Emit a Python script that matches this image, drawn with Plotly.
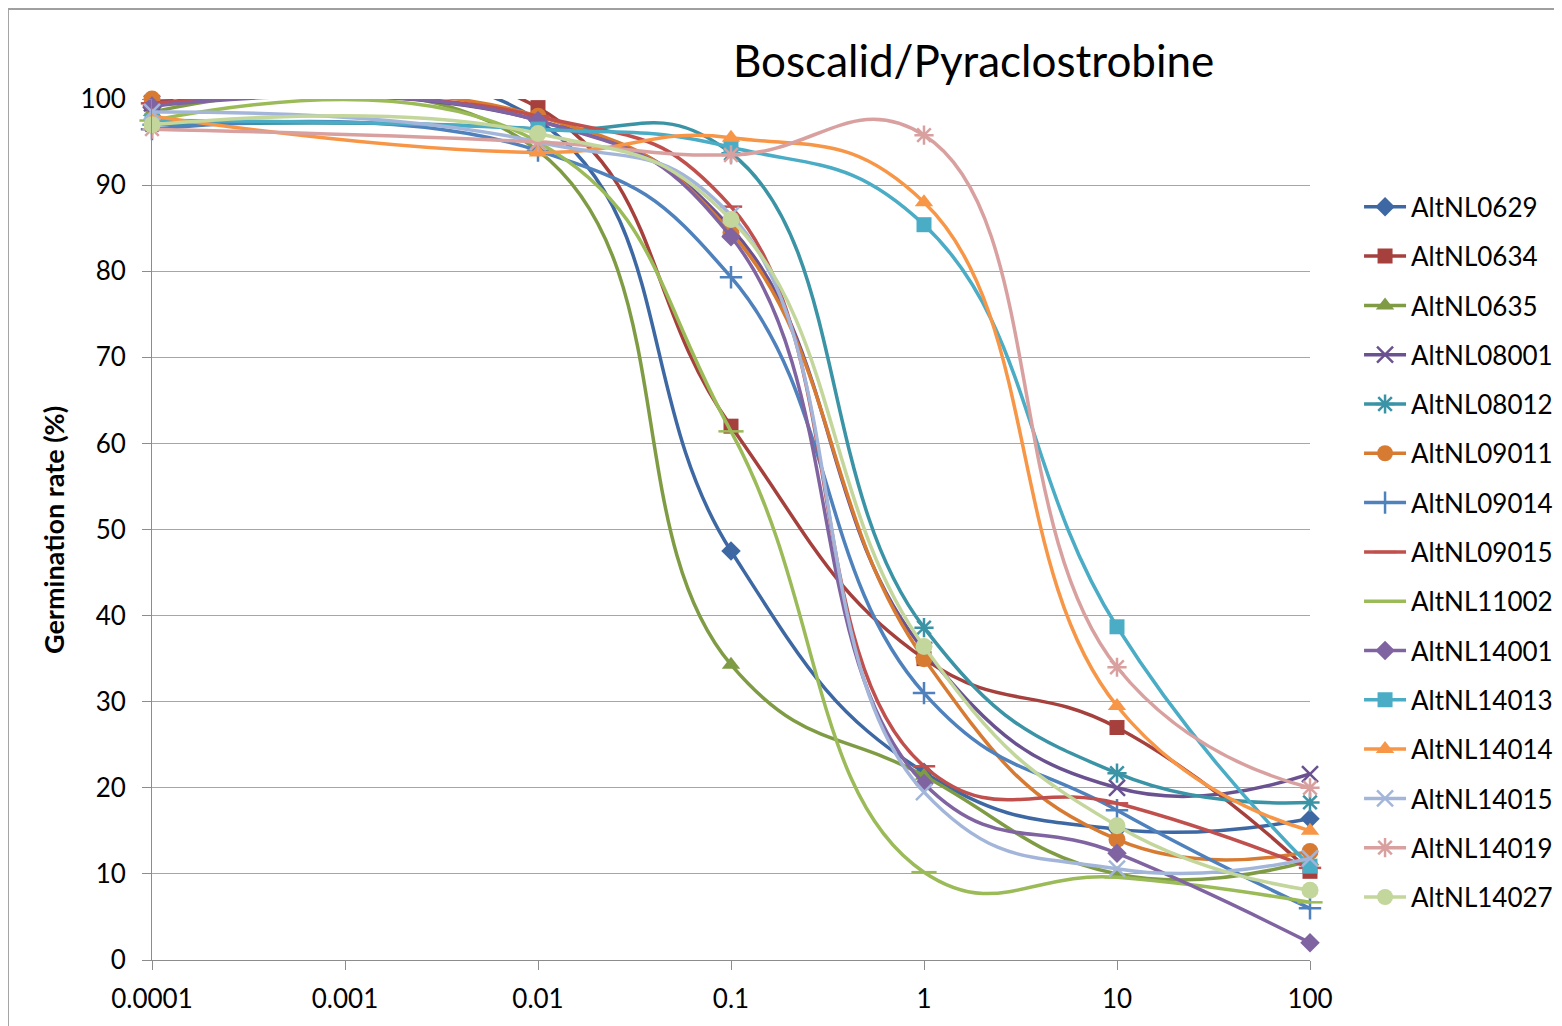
import plotly.graph_objects as go

concentrations = [0.0001, 0.01, 0.1, 1, 10, 100]
tick_vals = [0.0001, 0.001, 0.01, 0.1, 1, 10, 100]
tick_text = ["0.0001", "0.001", "0.01", "0.1", "1", "10", "100"]

AltNL0629 = [99.0, 97.5, 47.5, 21.8, 15.2, 16.4]
AltNL0634 = [99.5, 99.0, 62.0, 35.0, 27.0, 10.3]
AltNL0635 = [98.5, 94.0, 34.3, 21.4, 10.0, 11.5]
AltNL08001 = [99.5, 97.5, 85.0, 36.0, 20.0, 21.6]
AltNL08012 = [97.0, 96.5, 93.7, 38.6, 21.7, 18.3]
AltNL09011 = [100.0, 98.0, 84.5, 35.0, 14.0, 12.6]
AltNL09014 = [96.5, 94.0, 79.3, 31.0, 17.4, 6.0]
AltNL09015 = [99.5, 98.0, 87.5, 22.5, 18.2, 10.7]
AltNL11002 = [97.5, 95.0, 61.4, 10.2, 9.6, 6.7]
AltNL14001 = [99.2, 97.5, 84.0, 20.5, 12.4, 2.0]
AltNL14013 = [97.5, 96.5, 94.4, 85.4, 38.7, 10.9]
AltNL14014 = [98.0, 93.8, 95.5, 88.0, 29.5, 15.0]
AltNL14015 = [98.5, 95.0, 86.5, 19.5, 10.6, 11.8]
AltNL14019 = [96.5, 95.0, 93.5, 95.8, 34.0, 20.0]
AltNL14027 = [97.0, 96.0, 86.0, 36.4, 15.6, 8.1]

series_names = ["AltNL0629", "AltNL0634", "AltNL0635", "AltNL08001", "AltNL08012",
                "AltNL09011", "AltNL09014", "AltNL09015", "AltNL11002", "AltNL14001",
                "AltNL14013", "AltNL14014", "AltNL14015", "AltNL14019", "AltNL14027"]
series_values = [AltNL0629, AltNL0634, AltNL0635, AltNL08001, AltNL08012,
                 AltNL09011, AltNL09014, AltNL09015, AltNL11002, AltNL14001,
                 AltNL14013, AltNL14014, AltNL14015, AltNL14019, AltNL14027]

colors = ["#3D68A3", "#A5403D", "#7F9C45", "#6A5190", "#3B93A6",
          "#D77B33", "#4F81BD", "#C0504D", "#9BBB59", "#8064A2",
          "#4BACC6", "#F79646", "#A3B6DA", "#D9A0A0", "#C3D69B"]
symbols = ["diamond", "square", "triangle-up", "x-thin-open", "asterisk-open",
           "circle", "cross-thin-open", "line-ew-open", "line-ew-open", "diamond",
           "square", "triangle-up", "x-thin-open", "asterisk-open", "circle"]
sizes = [15, 15, 16, 16, 16, 17, 16, 16, 18, 15, 15, 16, 16, 16, 17]

FONT = "Lato"

fig = go.Figure()
for i, (name, vals) in enumerate(zip(series_names, series_values)):
    open_sym = symbols[i].endswith("-open")
    fig.add_trace(go.Scatter(
        x=concentrations, y=vals, name=name, mode="lines+markers",
        line=dict(color=colors[i], width=3.5, shape="spline", smoothing=1.3),
        marker=dict(symbol=symbols[i], size=sizes[i], color=colors[i],
                    line=dict(color=colors[i], width=2.5 if open_sym else 0)),
        cliponaxis=False, legendgroup=name,
    ))

fig.update_layout(
    width=1554, height=1018,
    margin=dict(l=144, r=252, t=91, b=66),
    paper_bgcolor="white", plot_bgcolor="white",
    font=dict(family=FONT, color="#000000"),
    showlegend=True,
    legend=dict(xref="container", yref="paper", x=0.8694, y=0.902,
                xanchor="left", yanchor="top",
                font=dict(family=FONT, size=26, color="#000000"),
                tracegroupgap=12.5, itemwidth=42, bgcolor="rgba(0,0,0,0)"),
    xaxis=dict(type="log", range=[-4, 2], tickvals=tick_vals, ticktext=tick_text,
               showgrid=False, showline=True, linecolor="#8C8C8C", linewidth=1,
               ticks="outside", ticklen=9, tickcolor="#8C8C8C", ticklabelstandoff=7,
               tickfont=dict(family=FONT, size=26, color="#000000"), zeroline=False),
    yaxis=dict(range=[0, 100], dtick=10, showgrid=True, gridcolor="#A6A6A6", gridwidth=1,
               showline=True, linecolor="#8C8C8C", linewidth=1,
               ticks="outside", ticklen=9, tickcolor="#8C8C8C", ticklabelstandoff=11,
               tickfont=dict(family=FONT, size=26, color="#000000"), zeroline=False),
    annotations=[
        dict(text="Boscalid/Pyraclostrobine", xref="paper", yref="paper",
             x=0.709, y=1.0453, xanchor="center", yanchor="middle", showarrow=False,
             font=dict(family=FONT, size=44, color="#000000")),
        dict(text="<b>Germination rate (%)</b>", xref="paper", yref="paper",
             x=-0.0855, y=0.4994, xanchor="center", yanchor="middle", showarrow=False,
             textangle=-90, font=dict(family=FONT, size=27, color="#000000")),
    ],
    shapes=[dict(type="rect", xref="paper", yref="paper", x0=-0.1244, y0=-0.2,
                 x1=1.3, y1=1.1045, line=dict(color="#A0A0A0", width=2), layer="below")],
)

fig.write_html("out.html")
